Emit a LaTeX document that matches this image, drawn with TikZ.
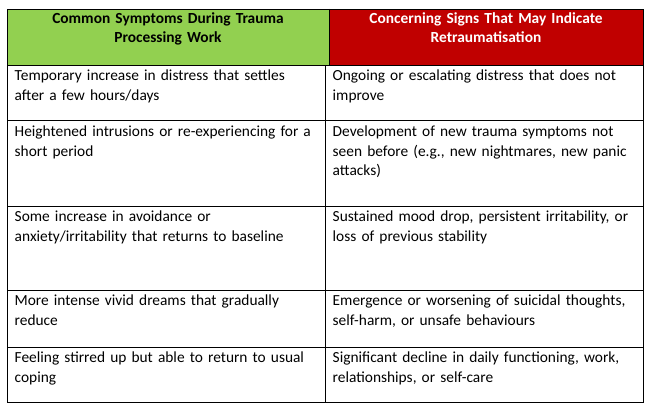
\documentclass[tikz,border=0pt]{standalone}
\usepackage{fontspec}
\setmainfont{Carlito}
\usepackage{xcolor}
\usetikzlibrary{positioning}
\definecolor{headgreen}{HTML}{92D050}
\definecolor{headred}{HTML}{C00000}
\begin{document}
\begin{tikzpicture}[
        x=1pt, y=-1pt,
        cell/.style={anchor=north west, inner sep=0pt, text width=308pt, align=left,
            font=\fontsize{15.4}{19.8}\selectfont},
        head/.style={anchor=north, inner sep=0pt, text width=300pt, align=center,
            font=\fontsize{15.4}{19}\selectfont\bfseries}
    ]
        \useasboundingbox (0,0) rectangle (650,412);
        % header cells
        \fill[headgreen] (7.5,9) rectangle (329,65);
        \fill[headred] (329,9) rectangle (643.5,65);
        \node[head] (hleft) at (168,12) {Common Symptoms During Trauma\\Processing Work};
        \node[head, text=white] (hright) at (486,12) {Concerning Signs That May Indicate\\Retraumatisation};
        % grid
        \draw[line width=0.9pt] (7.5,9) rectangle (643.5,402);
        \foreach \y in {65,120.5,206.5,290,347} \draw[line width=0.9pt] (7.5,\y) -- (643.5,\y);
        \draw[line width=0.9pt] (329,9) -- (329,65);
        \draw[line width=0.9pt] (325.5,65) -- (325.5,402);
        % body cells
        \node[cell] (l1) at (14.5,70) {Temporary increase in distress that settles\\after a few hours/days};
        \node[cell] (r1) at (332.5,70) {Ongoing or escalating distress that does not\\improve};
        \node[cell] (l2) at (14.5,125.5) {Heightened intrusions or re-experiencing for a\\short period};
        \node[cell] (r2) at (332.5,125.5) {Development of new trauma symptoms not\\seen before (e.g., new nightmares, new panic\\attacks)};
        \node[cell] (l3) at (14.5,210.5) {Some increase in avoidance or\\anxiety/irritability that returns to baseline};
        \node[cell] (r3) at (332.5,210.5) {Sustained mood drop, persistent irritability, or\\loss of previous stability};
        \node[cell] (l4) at (14.5,294.5) {More intense vivid dreams that gradually\\reduce};
        \node[cell] (r4) at (332.5,294.5) {Emergence or worsening of suicidal thoughts,\\self-harm, or unsafe behaviours};
        \node[cell] (l5) at (14.5,351.5) {Feeling stirred up but able to return to usual\\coping};
        \node[cell] (r5) at (332.5,351.5) {Significant decline in daily functioning, work,\\relationships, or self-care};
\end{tikzpicture}
\end{document}
